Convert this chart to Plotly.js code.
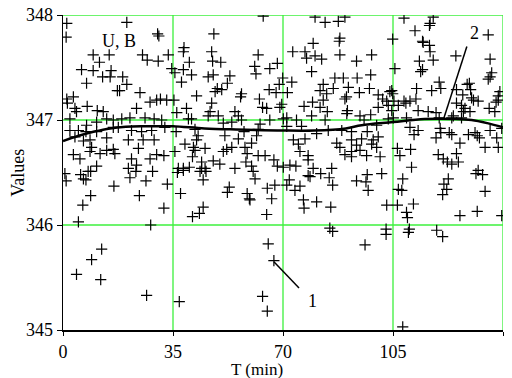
<!DOCTYPE html>
<html>
<head>
<meta charset="utf-8">
<script src="https://cdn.plot.ly/plotly-3.0.1.min.js"></script>
<style>html,body{margin:0;padding:0;background:#fff;}#chart{width:512px;height:378px;}</style>
</head>
<body>
<div id="chart"></div>
<script>
// Scatter of measured values (T in min, value)
const tPoints = [
1.2,1.0,20.3,30.1,30.5,9.6,11.6,14.7,25.3,26.8,30.3,33.5,5.9,9.6,12.6,15.3,15.0,19.0,7.5,20.3,17.3,18.0,24.5,1.2,3.3,1.4,3.8,4.3,7.7,10.9,12.8,23.4,27.7,29.8,31.0,33.0,2.2,7.5,10.7,13.9,16.0,18.7,21.3,26.1,29.0,31.4,2.2,4.9,7.3,10.7,16.0,17.6,21.8,25.0,28.2,32.4,3.8,6.5,8.6,13.9,20.8,25.5,29.0,3.3,5.4,9.1,8.6,11.8,13.9,16.0,16.5,24.0,21.8,23.4,27.7,29.8,32.1,10.7,8.0,20.8,
63.7,48.0,38.5,38.3,47.3,62.1,40.2,47.6,50.2,68.2,65.8,61.0,61.4,34.6,35.6,38.3,40.9,46.2,47.8,53.1,37.7,52.3,49.1,50.5,48.4,56.8,56.5,65.6,67.8,68.8,35.3,42.5,47.3,62.5,63.5,64.8,69.0,36.2,39.3,39.9,40.9,46.2,46.8,49.4,54.7,55.8,56.8,62.7,65.8,36.0,42.0,51.0,53.7,57.6,62.1,43.0,42.5,51.5,55.8,61.6,38.8,41.5,45.2,42.0,51.0,52.1,53.7,60.0,57.9,35.6,41.2,58.6,62.1,64.3,44.1,47.8,49.9,58.2,60.0,67.1,68.2,36.7,38.3,40.2,44.1,45.2,54.7,
80.2,83.4,87.6,89.7,88.1,87.9,79.6,73.1,77.0,77.5,80.2,82.3,88.1,93.4,98.2,79.1,86.5,89.2,93.6,97.9,69.9,72.8,82.8,86.0,90.8,97.5,104.0,71.4,81.8,83.9,94.3,100.3,90.2,89.7,82.8,101.7,103.0,69.6,76.7,79.4,81.8,90.5,100.3,103.5,84.1,79.1,90.3,94.5,97.9,70.1,71.2,74.3,83.4,95.8,103.5,71.2,75.9,80.7,84.4,88.7,91.8,96.8,99.8,73.3,77.0,74.9,87.1,88.1,91.8,95.0,98.7,100.3,93.4,98.2,99.8,75.4,78.0,89.7,91.8,94.5,96.6,91.8,100.9,78.0,70.1,72.2,74.1,79.6,85.5,
108.5,117.8,116.6,116.8,112.0,104.9,114.4,114.6,116.6,116.8,135.3,125.0,113.4,117.8,135.9,105.6,113.8,114.4,136.4,135.3,135.9,119.7,129.3,128.6,112.5,117.3,120.2,125.2,129.7,139.0,138.5,104.6,104.9,127.2,130.0,130.6,105.3,108.5,110.4,112.3,106.7,109.1,125.2,126.8,127.9,132.1,135.6,137.8,138.5,104.6,113.0,116.2,118.7,127.4,129.5,124.2,137.4,109.3,119.7,123.7,126.8,105.1,110.4,113.0,120.0,122.9,123.7,129.0,131.1,131.8,132.5,135.9,139.6,111.7,118.7,120.2,138.0,126.3,134.3,138.5,106.4,107.2,110.6,119.4,125.2,121.0,122.3,123.7,125.8,110.9,132.1,
0.6,5.6,8.8,6.5,7.3,1.0,21.3,23.2,28.5,26.4,16.2,33.2,8.8,24.3,6.3,32.1,4.9,27.9,12.3,9.1,4.3,12.0,26.6,
36.4,38.3,43.6,45.5,60.5,61.1,44.6,37.4,52.9,52.3,58.6,59.5,59.3,65.0,67.4,66.4,44.6,43.4,41.2,64.8,65.3,67.1,37.0,63.5,65.0,
71.2,72.0,78.0,78.6,82.0,84.7,85.8,73.8,75.4,76.5,76.7,80.7,85.2,93.4,96.4,96.8,97.1,101.4,103.0,84.9,85.8,96.1,102.8,102.8,
108.1,106.7,107.8,106.4,111.5,109.3,109.6,122.6,121.2,122.1,120.8,131.4,133.5,134.3,131.8,126.3,139.6,110.2,109.9,118.9,120.8,108.1
];
const uPoints = [
347.92,347.79,347.93,347.82,347.80,347.62,347.55,347.62,347.62,347.57,347.56,347.62,347.48,347.47,347.41,347.47,347.41,347.41,347.35,347.34,347.28,347.28,347.26,347.20,347.22,347.16,347.11,347.08,347.13,347.09,347.08,347.11,347.17,347.19,347.20,347.19,347.01,346.95,346.98,347.01,347.00,347.01,347.02,347.02,347.01,347.00,346.90,346.90,346.89,346.89,346.93,346.93,346.90,346.89,346.90,346.93,346.84,346.80,346.81,346.83,346.81,346.81,346.81,346.67,346.63,346.74,346.70,346.68,346.71,346.72,346.68,346.73,346.63,346.57,346.63,346.67,346.66,346.56,346.51,346.54,
347.99,347.82,347.69,347.65,347.65,347.62,347.55,347.56,347.55,347.54,347.49,347.51,347.44,347.49,347.45,347.48,347.43,347.41,347.43,347.42,347.36,347.35,347.30,347.29,347.27,347.25,347.22,347.29,347.26,347.34,347.19,347.23,347.16,347.20,347.12,347.11,347.12,347.07,347.11,347.01,347.01,347.04,347.08,347.04,347.08,347.04,347.00,346.96,347.00,346.89,346.91,346.97,346.98,346.89,346.91,346.85,346.81,346.85,346.82,346.85,346.77,346.74,346.73,346.71,346.70,346.72,346.74,346.78,346.74,346.70,346.65,346.68,346.66,346.66,346.60,346.61,346.58,346.60,346.56,346.62,346.56,346.54,346.54,346.55,346.54,346.54,346.54,
347.98,347.93,347.94,347.98,347.78,347.75,347.73,347.65,347.65,347.59,347.61,347.58,347.62,347.56,347.62,347.46,347.40,347.40,347.40,347.43,347.40,347.36,347.34,347.30,347.31,347.30,347.27,347.26,347.28,347.25,347.26,347.24,347.22,347.20,347.19,347.20,347.18,347.15,347.13,347.17,347.12,347.09,347.12,347.14,347.08,347.04,347.06,347.04,347.05,347.01,347.02,347.00,347.00,347.00,347.01,346.94,346.94,346.87,346.90,346.90,346.89,346.89,346.95,346.81,346.82,346.77,346.78,346.74,346.81,346.82,346.81,346.84,346.76,346.77,346.74,346.70,346.66,346.67,346.70,346.71,346.66,346.65,346.65,346.62,346.55,346.57,346.56,346.54,346.54,
347.97,347.98,347.90,347.92,347.85,347.77,347.75,347.74,347.71,347.65,347.81,347.61,347.56,347.57,347.58,347.49,347.46,347.48,347.45,347.39,347.41,347.36,347.35,347.34,347.30,347.28,347.30,347.29,347.29,347.27,347.23,347.28,347.25,347.24,347.21,347.19,347.18,347.18,347.18,347.20,347.14,347.16,347.16,347.14,347.11,347.18,347.11,347.17,347.19,347.09,347.09,347.08,347.07,347.08,347.08,347.04,347.08,347.02,347.02,347.02,347.02,347.02,346.93,346.90,346.92,346.88,346.86,346.86,346.88,346.85,346.83,346.90,346.92,346.86,346.83,346.88,346.83,346.78,346.74,346.74,346.73,346.66,346.72,346.67,346.68,346.63,346.60,346.58,346.60,346.55,346.52,
346.49,346.48,346.51,346.44,346.43,346.42,346.45,346.51,346.51,346.42,346.37,346.39,346.28,346.28,346.19,346.16,346.03,346.00,345.77,345.67,345.53,345.48,345.33,
346.50,346.52,346.51,346.51,346.51,346.44,346.43,346.30,346.36,346.31,346.30,346.24,346.25,346.35,346.38,346.25,346.17,346.11,346.08,346.10,345.82,345.66,345.27,345.32,345.18,
346.38,346.43,346.47,346.46,346.49,346.45,346.38,346.33,346.37,346.24,346.16,346.22,346.17,346.42,346.41,346.48,346.33,346.49,346.19,345.97,345.94,345.81,345.96,345.91,
346.44,346.34,346.33,346.19,346.20,346.12,346.07,346.44,346.39,346.34,346.29,346.49,346.48,346.32,346.13,346.09,346.09,345.96,345.93,345.95,345.89,345.03
];
// Smoothed trend curve
const tCurve = [0,5,10,15,20,25,30,35,45,55,70,80,90,95,105,115,125,130,135,140];
const uCurve = [346.80,346.85,346.89,346.92,346.935,346.94,346.94,346.94,346.92,346.91,346.90,346.90,346.92,346.95,346.98,347.01,347.01,347.00,346.97,346.93];
// Axis ticks
const xTicks = [0,35,70,105,140];
const yTicks = [345,346,347,348];

const serif = '"Liberation Serif", "Times New Roman", Times, serif';
const green = 'rgb(60,240,60)';

// green grid lines built from the tick arrays (skip those on the black axes)
const gridShapes = [];
xTicks.filter(v => v > 0).forEach(v => gridShapes.push({type: 'line', layer: 'below', xref: 'x', yref: 'paper',
  x0: v, x1: v, y0: 0, y1: 1, line: {color: green, width: 1.3}}));
yTicks.filter(v => v > 345).forEach(v => gridShapes.push({type: 'line', layer: 'below', xref: 'paper', yref: 'y',
  x0: 0, x1: 1, y0: v, y1: v, line: {color: green, width: 1.3}}));

const traces = [
  {x: tPoints, y: uPoints, type: 'scatter', mode: 'markers', name: 'U',
   marker: {symbol: 'cross-thin-open', size: 8, color: '#000', line: {width: 1.2, color: '#000'}},
   hoverinfo: 'x+y'},
  {x: tCurve, y: uCurve, type: 'scatter', mode: 'lines', name: 'trend',
   line: {color: '#000', width: 2.5, shape: 'spline', smoothing: 1}}
];

const layout = {
  width: 512, height: 378,
  margin: {l: 63, r: 9, t: 15, b: 48},
  paper_bgcolor: '#fff', plot_bgcolor: '#fff',
  showlegend: false,
  font: {family: serif, color: '#000', size: 18},
  xaxis: {range: [0, 140], tickvals: xTicks, ticktext: xTicks.map(String),
    showgrid: false, zeroline: false,
    showline: true, linecolor: '#000', linewidth: 2,
    ticks: 'outside', ticklen: 4, tickcolor: '#000',
    tickfont: {family: serif, size: 18, color: '#000'}},
  yaxis: {range: [345, 348], tickvals: yTicks, ticktext: yTicks.map(String),
    showgrid: false, zeroline: false,
    showline: true, linecolor: '#000', linewidth: 1.5,
    ticks: 'outside', ticklen: 5, tickcolor: '#000',
    tickfont: {family: serif, size: 18, color: '#000'}},
  shapes: gridShapes.concat([
    {type: 'line', xref: 'x', yref: 'y', x0: 67.1, y0: 345.65, x1: 75.1, y1: 345.40, line: {color: '#000', width: 1.5}},
    {type: 'line', xref: 'x', yref: 'y', x0: 121.2, y0: 347.02, x1: 128.5, y1: 347.70, line: {color: '#000', width: 1.5}}
  ]),
  annotations: [
    {text: 'U, B', xref: 'paper', yref: 'paper', x: 0.085, y: 0.955, showarrow: false,
     font: {family: serif, size: 18, color: '#000'}},
    {text: '1', xref: 'x', yref: 'y', x: 79.5, y: 345.28, showarrow: false,
     font: {family: serif, size: 18, color: '#000'}},
    {text: '2', xref: 'x', yref: 'y', x: 130.8, y: 347.83, showarrow: false,
     font: {family: serif, size: 18, color: '#000'}},
    {text: 'T (min)', xref: 'paper', yref: 'paper', x: 0.441, y: -0.124, yanchor: 'middle', showarrow: false,
     font: {family: serif, size: 17, color: '#000'}},
    {text: 'Values', xref: 'paper', yref: 'paper', x: -0.104, y: 0.5, xanchor: 'center', yanchor: 'middle',
     textangle: -90, showarrow: false, font: {family: serif, size: 18, color: '#000'}}
  ]
};

Plotly.newPlot('chart', traces, layout, {displayModeBar: false, staticPlot: true});
</script>
</body>
</html>
